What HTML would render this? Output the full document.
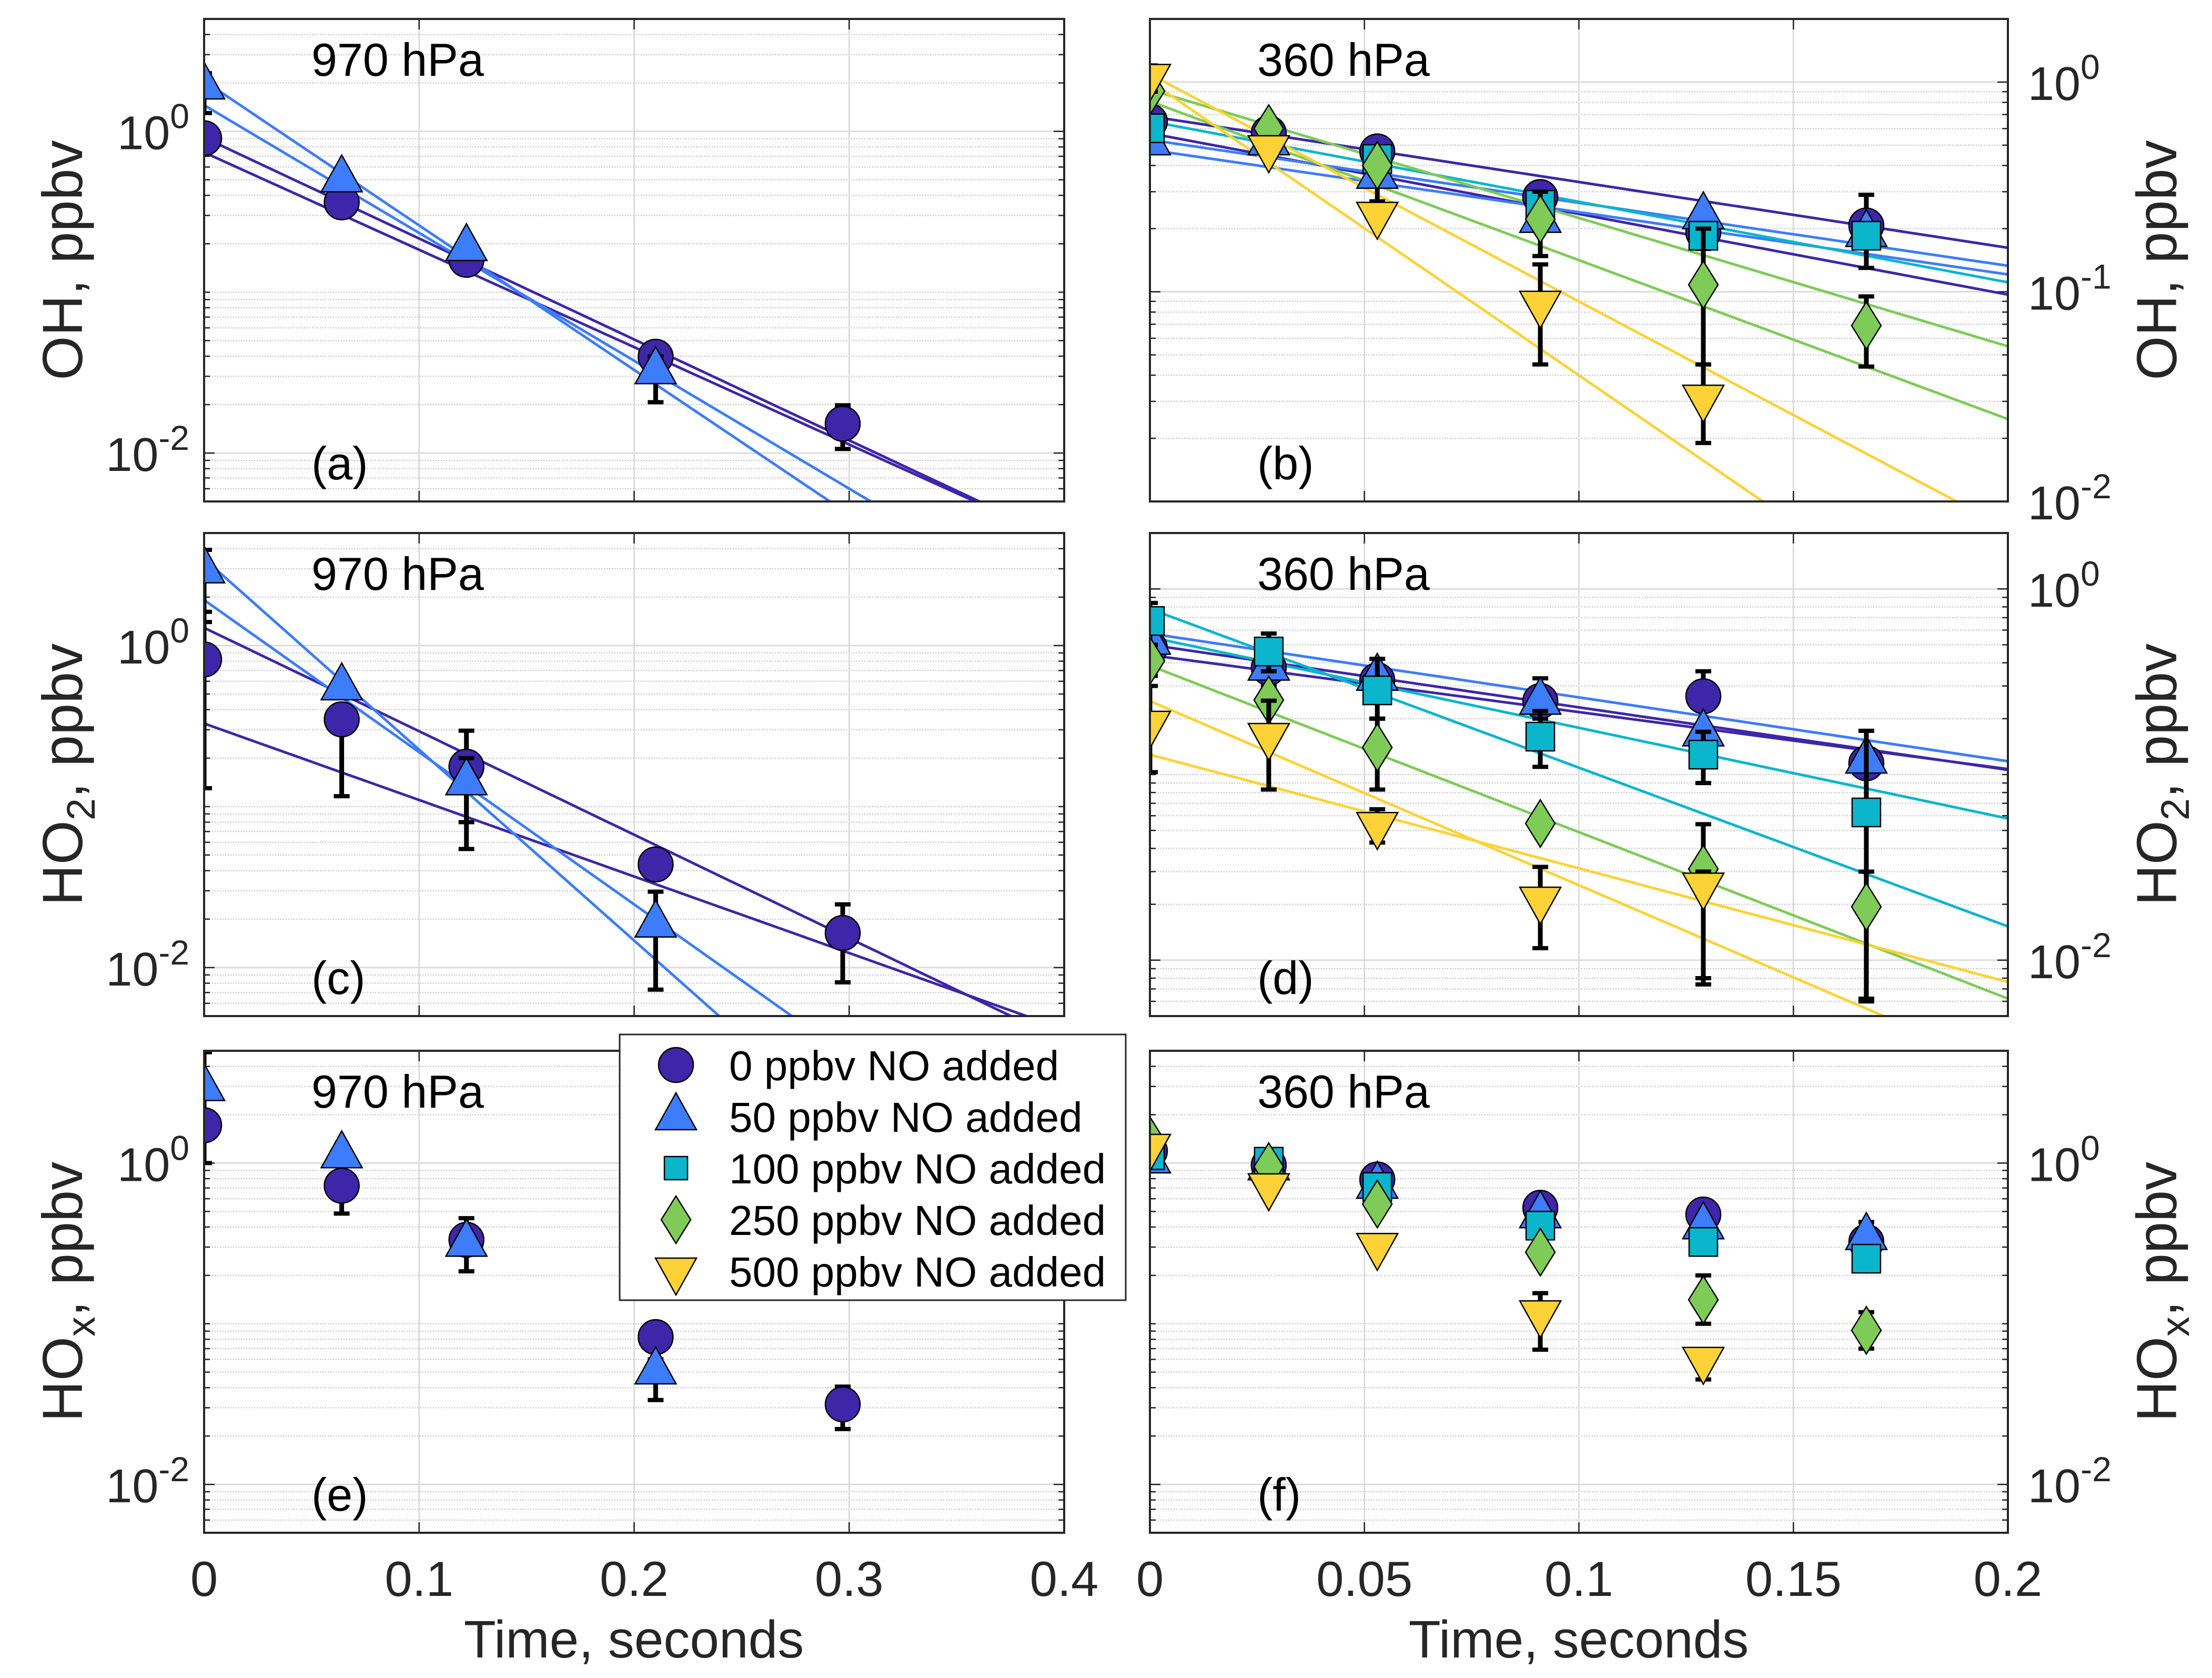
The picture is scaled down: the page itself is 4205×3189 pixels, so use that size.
<!DOCTYPE html>
<html><head><meta charset="utf-8"><style>
html,body{margin:0;padding:0;background:#fff;}
svg{display:block;font-family:"Liberation Sans",Arial,sans-serif;}
</style></head><body>
<svg id="fig" xmlns="http://www.w3.org/2000/svg" width="4205" height="3189" viewBox="0 0 4205 3189">
<rect x="0" y="0" width="4205" height="3189" fill="#fff"/>
</svg>
<script>
// ---- data ----
const seriesLabels = ["0 ppbv NO added","50 ppbv NO added","100 ppbv NO added","250 ppbv NO added","500 ppbv NO added"];
const tLeft = [0, 0.064, 0.122, 0.21, 0.297];
const tRight = [0, 0.0277, 0.053, 0.091, 0.129, 0.167];
// panel a (OH, 970 hPa)
const a_no0 = [0.906, 0.362, 0.159, 0.0397, 0.0152];
const a_no50 = [1.92, 0.508, 0.19, 0.0326, null];
const a_no0_err = [null, null, [0.135,0.17], [0.036,0.045], [0.0106,0.0198]];
const a_no50_err = [[1.3,2.3], null, null, [0.0207,0.04], null];
const a_fitSeries = [0,0,1,1];
const a_fitV0 = [0.915, 0.74, 2.06, 1.456];
const a_fitK = [14.45, 13.94, 20.69, 18.3];
// panel b (OH, 360 hPa)
const b_no0 = [0.649, 0.571, 0.467, 0.283, 0.192, 0.207];
const b_no50 = [0.52, 0.52, 0.36, 0.222, 0.231, 0.19];
const b_no100 = [0.602, null, 0.43, 0.26, 0.185, 0.185];
const b_no250 = [0.906, 0.6, 0.40, 0.222, 0.108, 0.069];
const b_no500 = [1.05, 0.48, 0.231, 0.087, 0.031, null];
const b_no0_err = [null, null, null, [0.2,0.33], [0.16,0.24], [0.13,0.29]];
const b_no50_err = [null, null, [0.27,0.45], null, null, null];
const b_no250_err = [null, null, null, [0.148,0.3], [0.045,0.2], [0.044,0.095]];
const b_no500_err = [[0.9,1.2], null, null, [0.045,0.135], [0.019,0.045], null];
const b_fitSeries = [0,0,1,1,2,3,3,4,4];
const b_fitV0 = [0.687, 0.57, 0.53, 0.475, 0.65, 0.92, 0.81, 1.09, 1.01];
const b_fitK = [7.22, 8.86, 6.91, 6.84, 8.84, 14.09, 17.45, 24.95, 32.3];
// panel c (HO2, 970 hPa)
const c_no0 = [0.82, 0.348, 0.177, 0.0437, 0.0164];
const c_no50 = [2.96, 0.556, 0.143, 0.0187, null];
const c_no0_err = [[0.13,1.62], [0.116,0.4], [0.08,0.296], null, [0.0081,0.0247]];
const c_no50_err = [[1.4,3.93], null, [0.0545,0.2], [0.0073,0.0296], null];
const c_fitSeries = [0,0,1,1];
const c_fitV0 = [1.29, 0.328, 3.46, 1.92];
const c_fitK = [14.8, 10.94, 27.3, 21.77];
// panel d (HO2, 360 hPa)
const d_no0 = [0.48, 0.376, 0.322, 0.249, 0.264, 0.115];
const d_no50 = [0.524, 0.38, 0.335, 0.249, 0.168, 0.12];
const d_no100 = [0.672, 0.46, 0.284, 0.16, 0.128, 0.0625];
const d_no250 = [0.41, 0.252, 0.14, 0.0545, 0.031, 0.0194];
const d_no500 = [0.186, 0.16, 0.053, 0.021, 0.025, null];
const d_no0_err = [[0.34,0.7], null, null, [0.2,0.33], [0.17,0.36], null];
const d_no100_err = [[0.5,0.84], [0.36,0.575], [0.2,0.42], [0.11,0.22], [0.09,0.17], [0.0062,0.172]];
const d_no250_err = [null, [0.17,0.3], [0.083,0.2], null, [0.008,0.054], [0.006,0.03]];
const d_no500_err = [[0.103,0.3], [0.083,0.25], [0.043,0.065], [0.0116,0.0318], [0.0074,0.03], null];
const d_fitSeries = [0,0,1,2,2,3,4,4];
const d_fitV0 = [0.5, 0.44, 0.575, 0.55, 0.78, 0.386, 0.249, 0.128];
const d_fitK = [7.76, 7.07, 7.92, 11.25, 19.69, 20.65, 22.85, 14.1];
// panel e (HOx, 970 hPa)
const e_no0 = [1.72, 0.723, 0.333, 0.0826, 0.0315];
const e_no50 = [2.96, 1.13, 0.318, 0.051, null];
const e_no0_err = [[1.0,4.9], [0.485,0.723], [0.212,0.454], null, [0.0221,0.0406]];
const e_no50_err = [null, null, null, [0.0335,0.06], null];
// panel f (HOx, 360 hPa)
const f_no0 = [1.19, 0.97, 0.79, 0.527, 0.478, 0.323];
const f_no50 = [1.05, 0.95, 0.73, 0.478, 0.408, 0.35];
const f_no100 = [1.12, 1.02, 0.71, 0.408, 0.323, 0.254];
const f_no250 = [1.38, 0.95, 0.556, 0.279, 0.141, 0.091];
const f_no500 = [1.25, 0.71, 0.302, 0.115, 0.059, null];
const f_no0_err = [null, null, null, null, null, [0.24,0.43]];
const f_no250_err = [null, null, null, null, [0.1,0.2], [0.07,0.118]];
const f_no500_err = [null, null, null, [0.069,0.155], [0.045,0.066], null];
const xTicksLeft = [0, 0.1, 0.2, 0.3, 0.4];
const xTicksRight = [0, 0.05, 0.1, 0.15, 0.2];
const xTickLabelsLeft = ["0","0.1","0.2","0.3","0.4"];
const xTickLabelsRight = ["0","0.05","0.1","0.15","0.2"];

// ---- style ----
const colors = ["#3d26a8","#3d7cfb","#0bb5cc","#7ecb57","#fcd236"];
const shapes = ["circle","up","square","diamond","down"];
const NS = "http://www.w3.org/2000/svg";
const svg = document.getElementById("fig");
function mk(tag, attrs, parent){
  const e = document.createElementNS(NS, tag);
  for (const k in attrs) e.setAttribute(k, attrs[k]);
  (parent||svg).appendChild(e);
  return e;
}
function marker(g, shape, cx, cy, color){
  let e;
  if (shape==="circle") e = mk("circle",{cx:cx,cy:cy,r:33,fill:color,stroke:"#000","stroke-width":2.5},g);
  else if (shape==="up") e = mk("polygon",{points:`${cx},${cy-45} ${cx-39},${cy+25} ${cx+39},${cy+25}`,fill:color,stroke:"#000","stroke-width":2.5},g);
  else if (shape==="down") e = mk("polygon",{points:`${cx},${cy+45} ${cx-39},${cy-25} ${cx+39},${cy-25}`,fill:color,stroke:"#000","stroke-width":2.5},g);
  else if (shape==="square") e = mk("rect",{x:cx-27,y:cy-27,width:54,height:54,fill:color,stroke:"#000","stroke-width":2.5},g);
  else e = mk("polygon",{points:`${cx},${cy-45} ${cx+28},${cy} ${cx},${cy+45} ${cx-28},${cy}`,fill:color,stroke:"#000","stroke-width":2.5},g);
  return e;
}

function drawPanel(p){
  const g = mk("g",{});
  
  
  const L=p.x0, R=p.x1, T=p.y0, B=p.y1;
  const lmin=Math.log10(p.ymin), lmax=Math.log10(p.ymax);
  const X = t => L + (t - p.xmin)/(p.xmax-p.xmin)*(R-L);
  const Y = v => B - (Math.log10(v)-lmin)/(lmax-lmin)*(B-T);
  for (let d=Math.floor(lmin); d<=Math.ceil(lmax); d++){
    for (let m=1;m<=9;m++){
      const v=m*Math.pow(10,d); const lv=Math.log10(v);
      if (lv<lmin-1e-9||lv>lmax+1e-9) continue;
      const y=Y(v);
      const isMajor = (m===1 && p.yticks.some(t=>Math.abs(Math.log10(t)-lv)<1e-9));
      if (isMajor) mk("line",{x1:L,x2:R,y1:y,y2:y,stroke:"#dcdcdc","stroke-width":3},g);
      else mk("line",{x1:L,x2:R,y1:y,y2:y,stroke:"#bdbdbd","stroke-width":2,"stroke-dasharray":"2 3"},g);
      const tl = isMajor?20:11;
      mk("line",{x1:L,x2:L+tl,y1:y,y2:y,stroke:"#222","stroke-width":2.5},g);
      mk("line",{x1:R,x2:R-tl,y1:y,y2:y,stroke:"#222","stroke-width":2.5},g);
    }
  }
  p.xticks.forEach((t,i)=>{
    const x=X(t);
    mk("line",{x1:x,x2:x,y1:T,y2:B,stroke:"#dcdcdc","stroke-width":3},g);
    mk("line",{x1:x,x2:x,y1:B,y2:B-20,stroke:"#222","stroke-width":2.5},g);
    mk("line",{x1:x,x2:x,y1:T,y2:T+20,stroke:"#222","stroke-width":2.5},g);
    if (p.showX){
      const tx = mk("text",{x:x,y:B+120,"font-size":94,"text-anchor":"middle",fill:"#262626"},g);
      tx.textContent = p.xlabels[i];
      
      
    }
  });
  const cid = "clip-"+p.name;
  const cp = mk("clipPath",{id:cid},g);
  mk("rect",{x:L,y:T,width:R-L,height:B-T},cp);
  const inner = mk("g",{"clip-path":`url(#${cid})`},g);
  if (p.fitSeries){
    p.fitSeries.forEach((s,i)=>{
      const pts=[];
      for (let k=0;k<=60;k++){
        const t=p.xmin+(p.xmax-p.xmin)*k/60;
        const v=p.fitV0[i]*Math.exp(-p.fitK[i]*t);
        pts.push(X(t).toFixed(1)+","+Y(v).toFixed(1));
      }
      const ln = mk("polyline",{points:pts.join(" "),fill:"none",stroke:colors[s],"stroke-width":5},inner);
      
      
    });
  }
  p.series.forEach(sr=>{
    const sg = mk("g",{},inner);
    
    
    sr.vals.forEach((v,i)=>{
      if (v===null) return;
      const x=X(p.times[i]);
      const er = sr.err ? sr.err[i] : null;
      if (er){
        const y1=Y(er[0]), y2=Y(er[1]);
        mk("line",{x1:x,x2:x,y1:y1,y2:y2,stroke:"#000","stroke-width":9},sg);
        mk("line",{x1:x-15,x2:x+15,y1:y1,y2:y1,stroke:"#000","stroke-width":8},sg);
        mk("line",{x1:x-15,x2:x+15,y1:y2,y2:y2,stroke:"#000","stroke-width":8},sg);
      }
      const m = marker(sg, shapes[sr.idx], x, Y(v), colors[sr.idx]);
      
      
    });
  });
  mk("rect",{x:L,y:T,width:R-L,height:B-T,fill:"none",stroke:"#262626","stroke-width":4},g);
  p.yticks.forEach(t=>{
    const y=Y(t); const ex=Math.round(Math.log10(t));
    let tx;
    if (p.right){
      tx = mk("text",{x:R+38,y:y+34,"font-size":90,fill:"#262626"},g);
    } else {
      tx = mk("text",{x:L-28,y:y+34,"font-size":90,"text-anchor":"end",fill:"#262626"},g);
    }
    tx.appendChild(document.createTextNode("10"));
    const sp = document.createElementNS(NS,"tspan");
    sp.setAttribute("dy","-40"); sp.setAttribute("font-size","66");
    sp.textContent = String(ex);
    tx.appendChild(sp);
    
    
  });
  const pl = mk("text",{x:L+204,y:T+108,"font-size":88,fill:"#000"},g);
  pl.textContent = p.pres;
  
  
  const tl = mk("text",{x:L+204,y:B-42,"font-size":88,fill:"#000"},g);
  tl.textContent = p.tag;
  
  
  const yc=(T+B)/2, xc = p.right ? 4099 : 118;
  const yt = mk("text",{x:xc,y:yc,"font-size":108,"text-anchor":"middle",fill:"#262626",transform:`rotate(-90 ${xc} ${yc}) translate(0 38)`},g);
  yt.appendChild(document.createTextNode(p.ylab[0]));
  if (p.ylab[1]){
    const s=document.createElementNS(NS,"tspan"); s.setAttribute("dy","24"); s.setAttribute("font-size","76"); s.textContent=p.ylab[1]; yt.appendChild(s);
    const s2=document.createElementNS(NS,"tspan"); s2.setAttribute("dy","-24"); s2.textContent=", ppbv"; yt.appendChild(s2);
  } else yt.appendChild(document.createTextNode(", ppbv"));
  
  
}

const Lx=[388,2023], Rx=[2186,3817];
const rows=[[36,953],[1013,1931],[1997,2913]];
drawPanel({name:"panel-a",x0:Lx[0],x1:Lx[1],y0:rows[0][0],y1:rows[0][1],xmin:0,xmax:0.4,ymin:0.005,ymax:5,yticks:[0.01,1],xticks:xTicksLeft,xlabels:xTickLabelsLeft,showX:false,right:false,times:tLeft,pres:"970 hPa",tag:"(a)",ylab:["OH"],
  fitSeries:a_fitSeries,fitV0:a_fitV0,fitK:a_fitK,
  series:[{idx:0,vals:a_no0,err:a_no0_err},{idx:1,vals:a_no50,err:a_no50_err}]});
drawPanel({name:"panel-b",x0:Rx[0],x1:Rx[1],y0:rows[0][0],y1:rows[0][1],xmin:0,xmax:0.2,ymin:0.01,ymax:2,yticks:[0.01,0.1,1],xticks:xTicksRight,xlabels:xTickLabelsRight,showX:false,right:true,times:tRight,pres:"360 hPa",tag:"(b)",ylab:["OH"],
  fitSeries:b_fitSeries,fitV0:b_fitV0,fitK:b_fitK,
  series:[{idx:0,vals:b_no0,err:b_no0_err},{idx:1,vals:b_no50,err:b_no50_err},{idx:2,vals:b_no100,err:null},{idx:3,vals:b_no250,err:b_no250_err},{idx:4,vals:b_no500,err:b_no500_err}]});
drawPanel({name:"panel-c",x0:Lx[0],x1:Lx[1],y0:rows[1][0],y1:rows[1][1],xmin:0,xmax:0.4,ymin:0.005,ymax:5,yticks:[0.01,1],xticks:xTicksLeft,xlabels:xTickLabelsLeft,showX:false,right:false,times:tLeft,pres:"970 hPa",tag:"(c)",ylab:["HO","2"],
  fitSeries:c_fitSeries,fitV0:c_fitV0,fitK:c_fitK,
  series:[{idx:0,vals:c_no0,err:c_no0_err},{idx:1,vals:c_no50,err:c_no50_err}]});
drawPanel({name:"panel-d",x0:Rx[0],x1:Rx[1],y0:rows[1][0],y1:rows[1][1],xmin:0,xmax:0.2,ymin:0.005,ymax:2,yticks:[0.01,1],xticks:xTicksRight,xlabels:xTickLabelsRight,showX:false,right:true,times:tRight,pres:"360 hPa",tag:"(d)",ylab:["HO","2"],
  fitSeries:d_fitSeries,fitV0:d_fitV0,fitK:d_fitK,
  series:[{idx:0,vals:d_no0,err:d_no0_err},{idx:1,vals:d_no50,err:null},{idx:2,vals:d_no100,err:d_no100_err},{idx:3,vals:d_no250,err:d_no250_err},{idx:4,vals:d_no500,err:d_no500_err}]});
drawPanel({name:"panel-e",x0:Lx[0],x1:Lx[1],y0:rows[2][0],y1:rows[2][1],xmin:0,xmax:0.4,ymin:0.005,ymax:5,yticks:[0.01,1],xticks:xTicksLeft,xlabels:xTickLabelsLeft,showX:true,right:false,times:tLeft,pres:"970 hPa",tag:"(e)",ylab:["HO","x"],
  series:[{idx:0,vals:e_no0,err:e_no0_err},{idx:1,vals:e_no50,err:e_no50_err}]});
drawPanel({name:"panel-f",x0:Rx[0],x1:Rx[1],y0:rows[2][0],y1:rows[2][1],xmin:0,xmax:0.2,ymin:0.005,ymax:5,yticks:[0.01,1],xticks:xTicksRight,xlabels:xTickLabelsRight,showX:true,right:true,times:tRight,pres:"360 hPa",tag:"(f)",ylab:["HO","x"],
  series:[{idx:0,vals:f_no0,err:f_no0_err},{idx:1,vals:f_no50,err:null},{idx:2,vals:f_no100,err:null},{idx:3,vals:f_no250,err:f_no250_err},{idx:4,vals:f_no500,err:f_no500_err}]});

[[1205,"x-axis-title-left"],[3001,"x-axis-title-right"]].forEach(a=>{
  const t = mk("text",{x:a[0],y:3150,"font-size":100,"text-anchor":"middle",fill:"#262626"});
  t.textContent="Time, seconds";
  
  
});

const lg = mk("g",{});


mk("rect",{x:1178,y:1966,width:962,height:505,fill:"#fff",stroke:"#262626","stroke-width":3},lg);
seriesLabels.forEach((lab,i)=>{
  const y=2024+i*98;
  const ent = mk("g",{},lg);
  
  
  if (shapes[i]==="square") mk("rect",{x:1285-22,y:y-22,width:44,height:44,fill:colors[i],stroke:"#000","stroke-width":2.5},ent);
  else marker(ent, shapes[i], 1285, y, colors[i]);
  const t = mk("text",{x:1386,y:y+29,"font-size":80,fill:"#000"},ent);
  t.textContent = lab;
});
</script>
</body></html>
